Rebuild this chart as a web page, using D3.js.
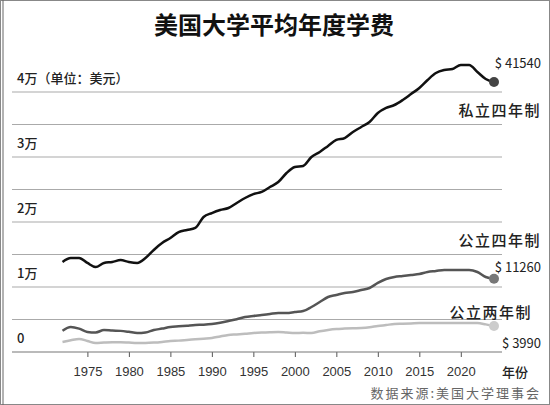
<!DOCTYPE html>
<html lang="zh">
<head>
<meta charset="UTF-8">
<script src="https://d3js.org/d3.v7.min.js"></script>
<style>
  body { margin: 0; background: #fff; }
  text { font-family: "Noto Sans CJK SC", sans-serif; }
</style>
</head>
<body>
<script>
  var years = d3.range(1972, 2025);
  // 私立四年制
  var privateFour = [13850,14460,14460,13700,13080,13700,13850,14150,13850,13700,
    14460,15700,16770,17540,18460,18770,19080,20770,21380,21850,22150,22920,23690,
    24300,24620,25380,26150,27540,28460,28620,30000,30770,31700,32620,32920,33850,
    34620,35380,36770,37540,38000,38770,39690,40620,41850,42920,43380,43540,44150,
    44150,43080,42000,41540];
  // 公立四年制
  var publicFour = [3280,3850,3600,3080,3000,3380,3300,3250,3100,2920,3000,3380,
    3600,3850,3950,4050,4150,4200,4300,4500,4770,5050,5380,5550,5690,5850,6000,
    6000,6150,6300,6920,7690,8460,8770,9080,9230,9540,9850,10620,11230,11540,11690,
    11850,12000,12310,12460,12620,12620,12620,12620,12310,11540,11260];
  // 公立两年制
  var publicTwo = [1540,1800,2000,1700,1380,1450,1500,1500,1450,1400,1400,1450,
    1550,1690,1750,1850,1950,2050,2150,2400,2620,2700,2800,2920,3000,3050,3080,
    3000,2920,2950,2920,3200,3400,3540,3600,3650,3690,3800,4000,4150,4310,4350,
    4400,4460,4460,4460,4460,4460,4460,4460,4450,4250,3990];
  var yTicks = [0, 10000, 20000, 30000, 40000];
  var yTickLabels = ["0", "1万", "2万", "3万", "4万（单位：美元）"];
  var xTicks = [1975, 1980, 1985, 1990, 1995, 2000, 2005, 2010, 2015, 2020];

  var W = 550, H = 405;
  var svg = d3.select("body").append("svg").attr("width", W).attr("height", H);

  svg.append("rect").attr("x", 0.5).attr("y", 0.5).attr("width", W - 1).attr("height", H - 1)
     .attr("fill", "#fff").attr("stroke", "#888");
  svg.append("line").attr("x1", 3).attr("x2", 3).attr("y1", 0).attr("y2", H).attr("stroke", "#666");

  var x = d3.scaleLinear().domain([1972, 2024]).range([62.5, 494]);
  var y = d3.scaleLinear().domain([0, 40000]).range([352, 92]);

  svg.append("text").attr("x", 274).attr("y", 34).attr("text-anchor", "middle")
     .attr("font-size", 24).attr("font-weight", "bold").attr("fill", "#111")
     .text("美国大学平均年度学费");

  // grid every 5000
  svg.selectAll(".grid").data(d3.range(5000, 40001, 5000)).enter().append("line")
     .attr("x1", 12).attr("x2", 502).attr("y1", d => y(d)).attr("y2", d => y(d))
     .attr("stroke", "#aaa").attr("stroke-width", 1.2);

  svg.selectAll(".ylab").data(yTicks).enter().append("text")
     .attr("x", 17).attr("y", d => y(d) - 9).attr("font-size", 13).attr("fill", "#222")
     .attr("font-weight", 500)
     .text((d, i) => yTickLabels[i]);

  var xAxis = svg.append("g").attr("transform", "translate(0,352)")
     .call(d3.axisBottom(x).tickValues(xTicks).tickFormat(d3.format("d")).tickSize(5));
  xAxis.select(".domain").remove();
  svg.append("line").attr("x1", 12).attr("x2", 502).attr("y1", 352).attr("y2", 352)
     .attr("stroke", "#777").attr("stroke-width", 1.2);
  xAxis.selectAll("line").attr("stroke", "#555");
  xAxis.selectAll("text").attr("font-size", 13).attr("dy", "1.2em").attr("fill", "#333")
     .style("font-family", "'Liberation Sans Narrow', 'Liberation Sans', sans-serif");
  svg.append("text").attr("x", 502).attr("y", 377).attr("font-size", 13).attr("fill", "#222")
     .attr("font-weight", 500).text("年份");

  var line = d3.line().x((d, i) => x(years[i])).y(d => y(d)).curve(d3.curveMonotoneX);
  var series = [
    { v: publicTwo, c: "#bdbdbd", w: 2.5 },
    { v: publicFour, c: "#555", w: 2.5 },
    { v: privateFour, c: "#111", w: 2.5 }
  ];
  series.forEach(function (s) {
    svg.append("path").datum(s.v).attr("d", line).attr("fill", "none")
       .attr("stroke", s.c).attr("stroke-width", s.w);
    svg.append("circle").attr("cx", x(2024)).attr("cy", y(s.v[s.v.length - 1]))
       .attr("r", 5).attr("fill", s.c === "#111" ? "#444" : s.c === "#555" ? "#777" : "#ccc");
  });

  var labels = [
    { t: "$ 41540", x: 541, y: 68, s: 13, b: false },
    { t: "私立四年制", x: 541, y: 116, s: 15, b: true },
    { t: "公立四年制", x: 541, y: 246, s: 15, b: true },
    { t: "$ 11260", x: 541, y: 272, s: 13, b: false },
    { t: "公立两年制", x: 532, y: 318, s: 15, b: true },
    { t: "$ 3990", x: 541, y: 348, s: 13, b: false }
  ];
  svg.selectAll(".lab").data(labels).enter().append("text")
     .attr("x", d => d.x).attr("y", d => d.y).attr("text-anchor", "end")
     .attr("font-size", d => d.s).attr("font-weight", d => d.b ? 500 : "normal")
     .attr("fill", "#222").attr("letter-spacing", d => d.b ? 1.5 : 0).text(d => d.t);

  svg.append("text").attr("x", 541).attr("y", 398).attr("text-anchor", "end")
     .attr("font-size", 13).attr("fill", "#666").attr("letter-spacing", 2)
     .text("数据来源:美国大学理事会");
</script>
</body>
</html>
